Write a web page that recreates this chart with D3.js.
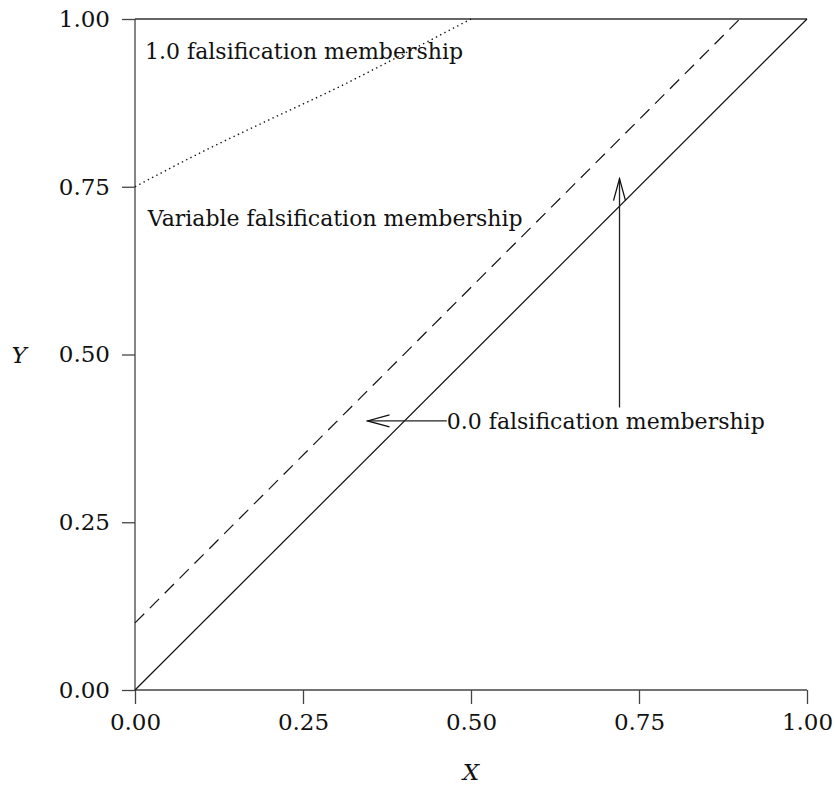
<!DOCTYPE html>
<html>
<head>
<meta charset="utf-8">
<script src="https://cdn.jsdelivr.net/npm/d3@7"></script>
<style>
  body { margin: 0; background: #fff; }
  text { font-family: "DejaVu Serif", serif; fill: #111; }
</style>
</head>
<body>
<svg id="chart" width="835" height="785"></svg>
<script>
// data
const xTicks = [0, 0.25, 0.5, 0.75, 1];
const yTicks = [0, 0.25, 0.5, 0.75, 1];

const solidX = [0, 1];
const solidY = [0, 1];
const dashedX = [0, 0.9];
const dashedY = [0.1, 1.0];
const dottedX = [0, 0.1, 0.2, 0.3, 0.4, 0.5];
const dottedY = [0.75, 0.802, 0.85, 0.897, 0.948, 1.0];
const topX = [0, 1];
const topY = [1, 1];

const labels = ["1.0 falsification membership", "Variable falsification membership", "0.0 falsification membership"];
const labelX = [0.015, 0.019, 0.464];
const labelY = [0.940, 0.691, 0.389];

// arrows: [x1, y1, x2, y2] tail -> head
const arrows = [
  [0.464, 0.401, 0.346, 0.401],
  [0.721, 0.421, 0.721, 0.762]
];

let svg = d3.select("#chart"),
    margin = {top: 19, right: 28, bottom: 95, left: 135},
    width = +svg.attr("width") - margin.left - margin.right,
    height = +svg.attr("height") - margin.top - margin.bottom;

let x = d3.scaleLinear().domain([0, 1]).range([0, width]);
let y = d3.scaleLinear().domain([0, 1]).range([height, 0]);

let g = svg.append("g").attr("transform", "translate(" + margin.left + "," + margin.top + ")");

// arrowhead
svg.append("defs").append("marker")
    .attr("id", "head")
    .attr("markerUnits", "userSpaceOnUse")
    .attr("viewBox", "-24 -8 26 16")
    .attr("refX", 0).attr("refY", 0)
    .attr("markerWidth", 26).attr("markerHeight", 16)
    .attr("orient", "auto")
  .append("path")
    .attr("d", "M-22,-6L0,0L-22,6")
    .attr("fill", "none")
    .attr("stroke", "#111")
    .attr("stroke-width", 1.3);

// axes
let xAxis = g.append("g")
    .attr("transform", "translate(0," + height + ")")
    .call(d3.axisBottom(x).tickValues(xTicks).tickFormat(d3.format(".2f")).tickSize(14).tickPadding(10));
let yAxis = g.append("g")
    .call(d3.axisLeft(y).tickValues(yTicks).tickFormat(d3.format(".2f")).tickSize(13).tickPadding(12));

[xAxis, yAxis].forEach(function(a) {
  a.select(".domain").attr("stroke", "#444").attr("stroke-width", 1.3);
  a.selectAll(".tick line").attr("stroke", "#444").attr("stroke-width", 1.3);
  a.selectAll(".tick text").style("font-family", "DejaVu Serif").style("font-size", "23px").attr("fill", "#111");
});
// keep the outer end caps off
xAxis.select(".domain").attr("d", "M0,0H" + width);
yAxis.select(".domain").attr("d", "M0," + height + "V0");

let line = d3.line()
    .x(function(d) { return x(d[0]); })
    .y(function(d) { return y(d[1]); });

function pairs(xs, ys) {
  return xs.map(function(v, i) { return [v, ys[i]]; });
}

g.append("path").datum(pairs(topX, topY))
    .attr("d", line).attr("fill", "none").attr("stroke", "#333").attr("stroke-width", 1.4);

g.append("path").datum(pairs(solidX, solidY))
    .attr("d", line).attr("fill", "none").attr("stroke", "#111").attr("stroke-width", 1.2);

g.append("path").datum(pairs(dashedX, dashedY))
    .attr("d", line).attr("fill", "none").attr("stroke", "#111").attr("stroke-width", 1.2)
    .attr("stroke-dasharray", "13,8");

g.append("path").datum(pairs(dottedX, dottedY))
    .attr("d", line.curve(d3.curveMonotoneX)).attr("fill", "none").attr("stroke", "#111").attr("stroke-width", 1.4)
    .attr("stroke-dasharray", "1.4,3.4");
line.curve(d3.curveLinear);

g.selectAll(".arrow")
    .data(arrows)
    .enter()
    .append("line")
    .attr("class", "arrow")
    .attr("x1", function(d) { return x(d[0]); })
    .attr("y1", function(d) { return y(d[1]); })
    .attr("x2", function(d) { return x(d[2]); })
    .attr("y2", function(d) { return y(d[3]); })
    .attr("stroke", "#222")
    .attr("stroke-width", 1.3)
    .attr("marker-end", "url(#head)");

g.selectAll(".note")
    .data(labels)
    .enter()
    .append("text")
    .attr("class", "note")
    .attr("x", function(d, i) { return x(labelX[i]); })
    .attr("y", function(d, i) { return y(labelY[i]); })
    .style("font-size", "22px")
    .text(function(d) { return d; });

// axis titles
svg.append("text")
    .attr("x", margin.left + width / 2)
    .attr("y", 780)
    .attr("text-anchor", "middle")
    .style("font-size", "23px")
    .style("font-style", "italic")
    .text("X");
svg.append("text")
    .attr("x", 19)
    .attr("y", margin.top + y(0.5) + 8)
    .attr("text-anchor", "middle")
    .style("font-size", "23px")
    .style("font-style", "italic")
    .text("Y");
</script>
</body>
</html>
